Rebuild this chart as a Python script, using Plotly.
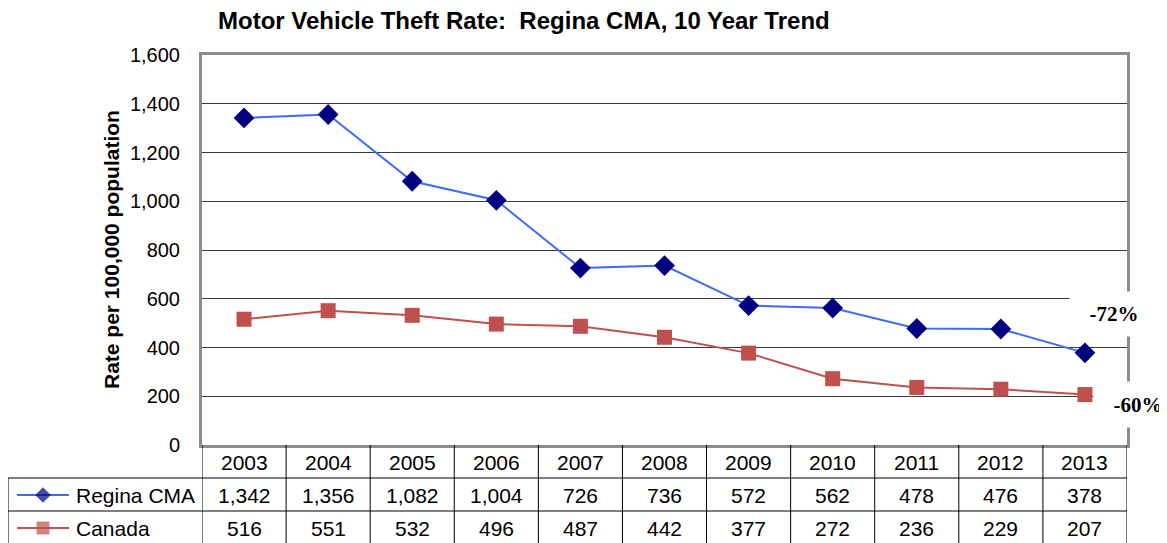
import plotly.graph_objects as go

# ---------------- data ----------------
years = [2003, 2004, 2005, 2006, 2007, 2008, 2009, 2010, 2011, 2012, 2013]
regina = [1342, 1356, 1082, 1004, 726, 736, 572, 562, 478, 476, 378]
canada = [516, 551, 532, 496, 487, 442, 377, 272, 236, 229, 207]
series_names = ["Regina CMA", "Canada"]
change_labels = ["-72%", "-60%"]
title_text = "Motor Vehicle Theft Rate:\u00a0 Regina CMA, 10 Year Trend"
y_title = "Rate per 100,000 population"
y_ticks = [0, 200, 400, 600, 800, 1000, 1200, 1400, 1600]

# ---------------- layout helpers ----------------
# page body has an 8px margin; design in viewport pixels
OFF = 8
FW, FH = 1167 - OFF, 543 - OFF
def PX(px):
    return (px - OFF) / FW
def PY(py):
    return 1 - (py - OFF) / FH

PLOT_L, PLOT_R, PLOT_T, PLOT_B = 202, 1127, 55, 445
ROW_HDR, ROW_1, ROW_2 = 462, 495, 528
ROW_LINES = [478, 511]
BLUE_LINE = "#3D6BFF"
NAVY = "#000080"
RED = "#C0504D"
FONT = "Arial, Liberation Sans, sans-serif"
SERIF = "Times New Roman, Liberation Serif, serif"
GRID = "#3a3a3a"
BORDER = "#8c8c8c"
TFS = 21  # table font size

fig = go.Figure()

fig.add_trace(go.Scatter(
    x=years, y=regina, name=series_names[0], mode="lines+markers",
    line=dict(color=BLUE_LINE, width=2),
    marker=dict(symbol="diamond", size=16, color=NAVY, line=dict(width=0)),
    showlegend=False, xaxis="x", yaxis="y"))
fig.add_trace(go.Scatter(
    x=years, y=canada, name=series_names[1], mode="lines+markers",
    line=dict(color=RED, width=2),
    marker=dict(symbol="square", size=15, color=RED, line=dict(width=0)),
    showlegend=False, xaxis="x", yaxis="y"))

# legend keys inside the data table (pixel-space overlay subplot)
fig.add_trace(go.Scatter(
    x=[17, 43, 69], y=[ROW_1, ROW_1, ROW_1], mode="lines+markers",
    line=dict(color=BLUE_LINE, width=2),
    marker=dict(symbol="diamond", size=[0, 12, 0], color=NAVY, line=dict(width=0)),
    showlegend=False, hoverinfo="skip", xaxis="x2", yaxis="y2"))
fig.add_trace(go.Scatter(
    x=[17, 43, 69], y=[ROW_2, ROW_2, ROW_2], mode="lines+markers",
    line=dict(color=RED, width=2),
    marker=dict(symbol="square", size=[0, 13, 0], color=RED, line=dict(width=0)),
    showlegend=False, hoverinfo="skip", xaxis="x2", yaxis="y2"))

shapes = []
annotations = []

def txt(x, y, text, xref="paper", size=TFS, family=FONT, xanchor="center", **kw):
    d = dict(xref=xref, yref="paper", x=x, y=y, text=text, showarrow=False,
             xanchor=xanchor, yanchor="middle",
             font=dict(family=family, size=size, color="black"))
    d.update(kw)
    annotations.append(d)

# table: vertical lines at category boundaries
for i in range(len(years) + 1):
    x = years[0] - 0.5 + i
    shapes.append(dict(type="line", xref="x", yref="paper", x0=x, x1=x,
                       y0=PY(PLOT_B), y1=0, line=dict(color="#000000", width=1)))
# left edge of legend column
shapes.append(dict(type="line", xref="paper", yref="paper", x0=PX(8), x1=PX(8),
                   y0=PY(ROW_LINES[0]), y1=0, line=dict(color="#000000", width=1)))
# horizontal row lines
for r in ROW_LINES:
    shapes.append(dict(type="line", xref="paper", yref="paper", x0=PX(8), x1=PX(PLOT_R),
                       y0=PY(r), y1=PY(r), line=dict(color="#000000", width=1)))

# table text
for i, yr in enumerate(years):
    txt(yr, PY(ROW_HDR), str(yr), xref="x")
    txt(yr, PY(ROW_1), f"{regina[i]:,}", xref="x")
    txt(yr, PY(ROW_2), f"{canada[i]:,}", xref="x")
for name, row in zip(series_names, [ROW_1, ROW_2]):
    txt(PX(74), PY(row), name, xanchor="left")

# y-axis title
txt(PX(111), PY((PLOT_T + PLOT_B) / 2), f"<b>{y_title}</b>", size=21, textangle=-90)

# change labels (white boxes hide gridline / border behind them)
txt(PX(1114), PY(314), f"<b>{change_labels[0]}</b>", family=SERIF, size=21,
    bgcolor="white", width=88, height=44, borderpad=0)
txt(PX(1138), PY(404), f"<b>{change_labels[1]}</b>", family=SERIF, size=21,
    bgcolor="white", width=88, height=45, borderpad=0)

# chart title (as annotation so it stays fully inside the figure)
txt(PX(524), PY(21), f"<b>{title_text}</b>", size=24)

fig.update_layout(
    template="none",
    width=FW, height=FH,
    margin=dict(l=0, r=0, t=0, b=0, pad=0),
    autosize=False,
    paper_bgcolor="white",
    plot_bgcolor="rgba(0,0,0,0)",
    xaxis=dict(domain=[PX(PLOT_L), PX(PLOT_R)], range=[years[0] - 0.5, years[-1] + 0.5],
               showgrid=False, zeroline=False, showticklabels=False, ticks="",
               showline=True, linecolor=BORDER, linewidth=3, mirror=True, anchor="y",
               automargin=False),
    yaxis=dict(domain=[PY(PLOT_B), PY(PLOT_T)], range=[0, 1600], tickvals=y_ticks,
               tickformat=",d", showgrid=True, gridcolor=GRID, gridwidth=1, zeroline=False,
               showline=True, linecolor=BORDER, linewidth=3, mirror=True, ticks="",
               ticklabelstandoff=15, automargin=False,
               tickfont=dict(family=FONT, size=20, color="black"), anchor="x"),
    xaxis2=dict(domain=[0, 1], range=[OFF, OFF + FW], visible=False, anchor="y2",
                fixedrange=True, automargin=False),
    yaxis2=dict(domain=[0, 1], range=[OFF + FH, OFF], visible=False, anchor="x2",
                fixedrange=True, automargin=False),
    shapes=shapes,
    annotations=annotations,
    showlegend=False,
)

fig.write_html("out.html")
